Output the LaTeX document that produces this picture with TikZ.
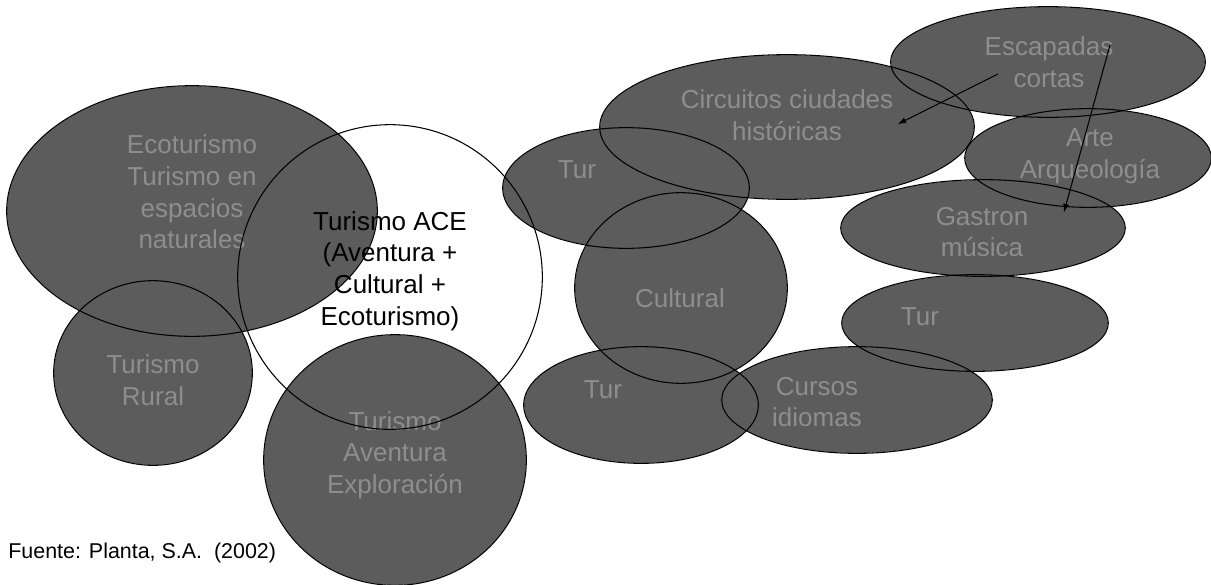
\documentclass[tikz,border=0pt]{standalone}
\usepackage{fontspec}
\setmainfont{Liberation Sans}
\usetikzlibrary{positioning}
\usetikzlibrary{arrows, shapes, backgrounds, calc}
\definecolor{blobgray}{RGB}{92,92,92}
\definecolor{blobtext}{RGB}{142,142,142}

\begin{document}
\begin{tikzpicture}[x=0.02cm, y=-0.02cm, >=latex, font=\fontsize{14.8}{18}\selectfont]%
    \tikzstyle{blob} = [ ellipse, fill = blobgray, inner sep = 0pt]
    \tikzstyle{ace} = [ circle, fill = white, inner sep = 0pt]
    \tikzstyle{lbl} = [ align = center, text = blobtext, inner sep = 0pt]
    \tikzstyle{acelbl} = [ align = center, text = black, inner sep = 0pt]
    \tikzstyle{src} = [ anchor = west, inner sep = 0pt, font = \fontsize{12.2}{14}\selectfont]
    \tikzstyle{rim} = [ draw = black, line width = 0.6pt]
    \tikzstyle{post} = [ ->, line width = 0.6pt]
%%
    \useasboundingbox (0,0) rectangle (1211,585);
    %% Left group
    \node [ace, minimum size = 6.08cm] (ace) at (390,277) {};
    \node [blob, minimum width = 7.4cm, minimum height = 5.0cm] (eco) at (192,211) {};
    \node [lbl] (eco_txt) at (192,192) {Ecoturismo\\Turismo en\\espacios\\naturales};
    \node [blob, minimum width = 3.96cm, minimum height = 3.68cm] (rural) at (153,373) {};
    \node [lbl] (rural_txt) at (153,380) {Turismo\\Rural};
    \node [blob, minimum width = 5.24cm, minimum height = 5.0cm] (aventura) at (395,460) {};
    \node [lbl] (aventura_txt) at (395,455) {Turismo\\Aventura\\Exploración};
    \node [acelbl] (ace_txt) at (390,271) {Turismo ACE\\(Aventura +\\Cultural +\\Ecoturismo)};

    %% Cultural group
    \node [blob, minimum width = 4.24cm, minimum height = 3.8cm] (cultural) at (681,288) {};
    \node [lbl] (cultural_txt) at (680,298) {Cultural};
    \node [blob, minimum width = 7.48cm, minimum height = 2.88cm] (circuitos) at (787,127) {};
    \node [lbl] (circuitos_txt) at (787,115) {Circuitos ciudades\\históricas};
    \node [blob, minimum width = 4.92cm, minimum height = 2.4cm] (tur_a) at (626,188) {};
    \node [lbl] (tur_a_txt) at (577,170) {Tur};
    \node [blob, minimum width = 4.68cm, minimum height = 2.32cm] (tur_b) at (641,405) {};
    \node [lbl] (tur_b_txt) at (603,390) {Tur};
    \node [blob, minimum width = 5.4cm, minimum height = 2.12cm] (cursos) at (857,400) {};
    \node [lbl] (cursos_txt) at (817,402) {Cursos\\idiomas};

    %% Right column
    \node [blob, minimum width = 6.28cm, minimum height = 2.2cm] (escapadas) at (1048,62) {};
    \node [lbl] (escapadas_txt) at (1049,62) {Escapadas\\cortas};
    \node [blob, minimum width = 4.92cm, minimum height = 1.96cm] (arte) at (1088,158) {};
    \node [lbl] (arte_txt) at (1090,156) {Arte\\Arqueología};
    \node [blob, minimum width = 5.68cm, minimum height = 1.92cm] (gastron) at (983,228) {};
    \node [lbl] (gastron_txt) at (982,232) {Gastron\\música};
    \node [blob, minimum width = 5.32cm, minimum height = 1.92cm] (tur_c) at (975,323) {};
    \node [lbl] (tur_c_txt) at (920,317) {Tur};

    %% Outlines, all on top
    \foreach \b in {ace, eco, rural, aventura, cultural, circuitos, tur_a, tur_b, cursos, escapadas, arte, gastron, tur_c}
        \draw [rim] let \p1 = ($(\b.east)-(\b.center)$), \p2 = ($(\b.north)-(\b.center)$) in
            (\b.center) ellipse [x radius = \x1, y radius = \y2];

    %% Arrows
    \coordinate (esc_l) at (998,74);
    \coordinate (esc_r) at (1110,45);
    \coordinate (circ_in) at (898,124);
    \coordinate (gast_in) at (1064,212);
    \draw[post] (esc_l) -- (circ_in);
    \draw[post] (esc_r) -- (gast_in);

    %% Source
    \node [src] (fuente) at (8,553) {Fuente: Planta, S.A.\ \ (2002)};
\end{tikzpicture}
\end{document}
